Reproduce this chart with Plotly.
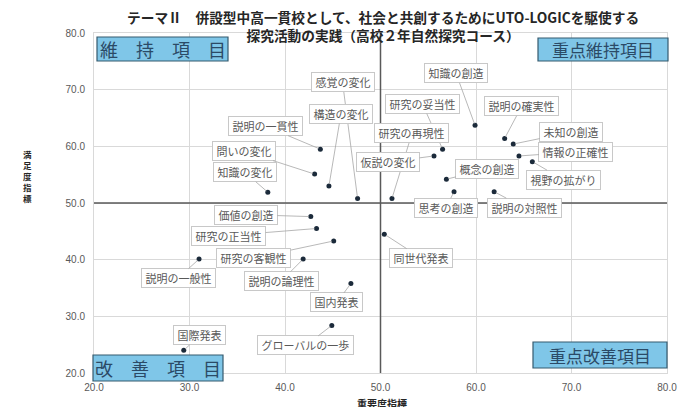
import plotly.graph_objects as go

# ---- data ----
items = ["感覚の変化", "構造の変化", "説明の一貫性", "問いの変化", "知識の変化",
         "知識の創造", "研究の妥当性", "説明の確実性", "研究の再現性", "未知の創造",
         "情報の正確性", "仮説の変化", "概念の創造", "視野の拡がり", "思考の創造",
         "説明の対照性", "価値の創造", "研究の正当性", "研究の客観性", "説明の一般性",
         "説明の論理性", "国内発表", "国際発表", "グローバルの一歩", "同世代発表"]
importance = [47.6, 44.6, 43.7, 43.1, 38.2,
              59.9, 56.5, 63.0, 51.2, 63.9,
              64.5, 55.6, 56.9, 65.9, 57.7,
              61.9, 42.7, 43.3, 45.1, 31.0,
              41.9, 46.9, 29.4, 44.9, 50.4]
satisfaction = [50.8, 53.0, 59.5, 55.1, 51.9,
                63.7, 59.5, 61.4, 50.8, 60.4,
                58.3, 58.3, 54.2, 57.3, 52.0,
                52.0, 47.6, 45.5, 43.3, 40.1,
                40.1, 35.8, 24.0, 28.4, 44.5]

title_lines = ["テーマⅡ　併設型中高一貫校として、社会と共創するためにUTO-LOGICを駆使する",
               "探究活動の実践（高校２年自然探究コース）"]
x_title = "重要度指標"
y_title = "満足度指標"
quadrant_names = ["維　持　項　目", "重点維持項目", "改　善　項　目", "重点改善項目"]
tick_vals = [20, 30, 40, 50, 60, 70, 80]

# ---- layout helpers (pixel offsets of data-label boxes) ----
label_dx = [-15, 12, -55, -71, -23, -19, -20, 17, 20, 58, 57, -46, 41, 31, -8, 30,
            -65, -88, -80, -21, -22, -14, 16, -26, 37]
label_dy = [-116, -72, -23, -23, -20, -52, -45, -32, -65, -12, -4, 6, -10, 18, 16, 16,
            -2, 7, 17, 19, 22, 19, -15, 20, 24]

W, H = 679, 407
ML, MR, MT, MB = 94, 12, 33, 34
PW, PH = W - ML - MR, H - MT - MB


def fx(px):
    return (px - ML) / PW


def fy(py):
    return (H - MB - py) / PH


FONT = "Noto Sans CJK JP, Noto Sans, sans-serif"

fig = go.Figure()
fig.add_trace(go.Scatter(
    x=importance, y=satisfaction, mode="markers",
    marker=dict(color="#1b2a3a", size=5),
    hoverinfo="text", text=items, showlegend=False))

annotations = []
for name, xv, yv, dx, dy in zip(items, importance, satisfaction, label_dx, label_dy):
    annotations.append(dict(
        x=xv, y=yv, xref="x", yref="y", text=" " + name + " ", showarrow=True,
        arrowhead=0, arrowwidth=0.8, arrowcolor="#a6a6a6", standoff=2,
        ax=dx, ay=dy, font=dict(family=FONT, size=11, color="#595959"),
        bgcolor="white", bordercolor="#c8c8c8", borderwidth=1, borderpad=1))

# quadrant boxes (pixel rects)
boxes = [(97, 37, 228, 61), (538, 38, 668, 61), (93, 355, 223, 381), (533, 342, 667, 368)]
sizes = [18, 17, 18, 17]
shapes = []
for (x0, y0, x1, y1), txt, fs in zip(boxes, quadrant_names, sizes):
    shapes.append(dict(type="rect", xref="paper", yref="paper",
                       x0=fx(x0), x1=fx(x1), y0=fy(y1), y1=fy(y0),
                       fillcolor="#7fc6e8", line=dict(color="#355a6e", width=1.2),
                       layer="above"))
    annotations.append(dict(xref="paper", yref="paper", x=fx((x0 + x1) / 2),
                            y=fy((y0 + y1) / 2), text=txt, showarrow=False,
                            xanchor="center", yanchor="middle",
                            font=dict(family=FONT, size=fs, color="#2b4a66")))

# crossing lines at 50
shapes.append(dict(type="line", xref="x", yref="y", x0=50, x1=50, y0=20, y1=80,
                   line=dict(color="#595959", width=1.5), layer="between"))
shapes.append(dict(type="line", xref="x", yref="y", x0=20, x1=80, y0=50, y1=50,
                   line=dict(color="#595959", width=1.5), layer="between"))

# titles
annotations.append(dict(xref="paper", yref="paper", x=fx(383), y=fy(26),
                        text="<b>" + "<br>".join(title_lines) + "</b>", showarrow=False,
                        xanchor="center", yanchor="middle", align="center",
                        font=dict(family=FONT, size=13.7, color="#262626")))
annotations.append(dict(xref="paper", yref="paper", x=fx(382), y=fy(404),
                        text="<b>" + x_title + "</b>", showarrow=False,
                        xanchor="center", yanchor="middle",
                        font=dict(family=FONT, size=10, color="#262626")))
annotations.append(dict(xref="paper", yref="paper", x=fx(27), y=fy(176),
                        text="<b>" + "<br>".join(list(y_title)) + "</b>", showarrow=False,
                        xanchor="center", yanchor="middle",
                        font=dict(family=FONT, size=8.5, color="#262626")))

axis_common = dict(range=[20, 80], tickvals=tick_vals, tickformat=".1f",
                   showgrid=True, gridcolor="#d9d9d9", gridwidth=1,
                   zeroline=False, showline=True, linecolor="#d9d9d9", mirror=True,
                   automargin=False,
                   tickfont=dict(family="Liberation Sans, Arial, sans-serif", size=10,
                                 color="#595959"),
                   fixedrange=True)

fig.update_layout(
    width=W, height=H, autosize=False,
    margin=dict(l=ML, r=MR, t=MT, b=MB, pad=0, autoexpand=False),
    paper_bgcolor="white", plot_bgcolor="white",
    xaxis=dict(**axis_common, ticklabelstandoff=5),
    yaxis=dict(**axis_common, ticklabelstandoff=6),
    shapes=shapes, annotations=annotations,
    showlegend=False,
)

fig.write_html("out.html", config={"displayModeBar": False},
               post_script="document.body.style.margin='0px';document.body.style.overflow='hidden';")
